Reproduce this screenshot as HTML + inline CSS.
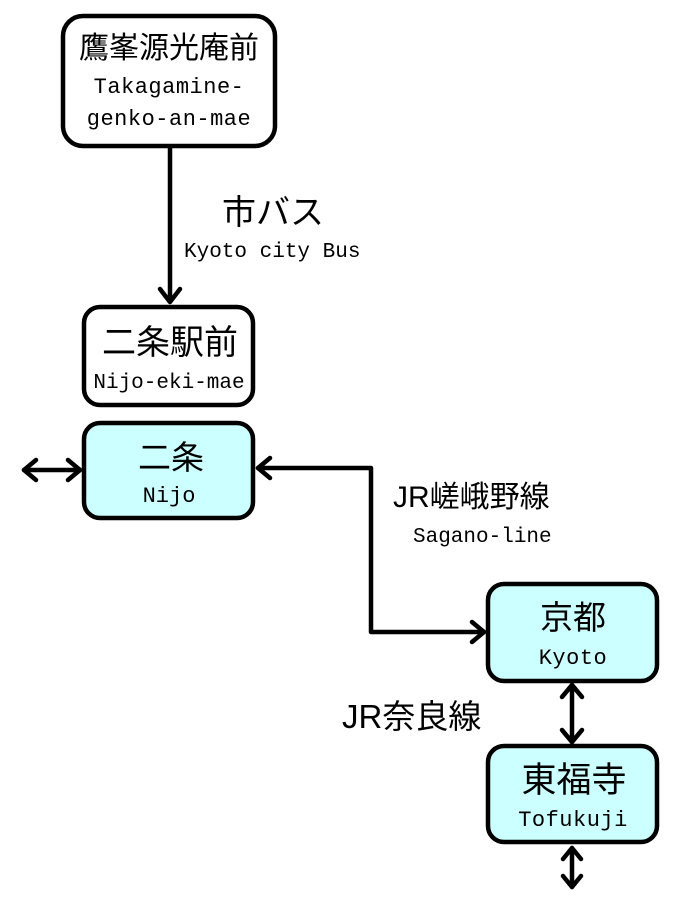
<!DOCTYPE html>
<html><head><meta charset="utf-8"><style>
html,body{margin:0;padding:0;background:#fff}
svg{display:block}
.j{font-family:"Liberation Sans","Noto Sans CJK JP",sans-serif;fill:#000}
.m{font-family:"Liberation Mono","Noto Sans CJK JP",monospace;fill:#000}
</style></head><body>
<svg width="681" height="911" viewBox="0 0 681 911" xmlns="http://www.w3.org/2000/svg">
<g fill="none" stroke="#000" stroke-width="4.5" stroke-linejoin="round" stroke-linecap="round">
<rect x="63" y="16" width="212" height="130" rx="20" fill="#fff"/>
<rect x="84" y="307" width="169" height="98" rx="16" fill="#fff"/>
<rect x="84" y="423" width="169" height="95" rx="16" fill="#ccffff"/>
<rect x="488" y="584" width="169" height="97" rx="16" fill="#ccffff"/>
<rect x="488" y="746" width="169" height="96" rx="16" fill="#ccffff"/>
<line x1="170" y1="147" x2="170" y2="301"/>
<polyline points="160,289 170,302 180,289"/>
<line x1="24" y1="470" x2="80" y2="470"/>
<polyline points="36,460 24,470 36,480"/>
<polyline points="68,460 80,470 68,480"/>
<polyline points="258,468 371,468 371,632 484,632"/>
<polyline points="270,458 258,468 270,478"/>
<polyline points="472,622 484,632 472,642"/>
<line x1="572" y1="685" x2="572" y2="742"/>
<polyline points="562,697 572,685 582,697"/>
<polyline points="562,730 572,742 582,730"/>
<line x1="572" y1="848" x2="572" y2="887"/>
<polyline points="563,859 572,848 581,859"/>
<polyline points="563,876 572,887 581,876"/>
</g>
<g text-anchor="middle">
<text class="j" x="169" y="58" font-size="30">鷹峯源光庵前</text>
<text class="m" x="169" y="93" font-size="22" letter-spacing="0.5">Takagamine-</text>
<text class="m" x="169" y="125" font-size="22" letter-spacing="0.5">genko-an-mae</text>
<text class="j" x="170" y="354" font-size="34">二条駅前</text>
<text class="m" x="169" y="388" font-size="21">Nijo-eki-mae</text>
<text class="j" x="171" y="469" font-size="33">二条</text>
<text class="m" x="169" y="502" font-size="22">Nijo</text>
<text class="j" x="573" y="629" font-size="33">京都</text>
<text class="m" x="573" y="664" font-size="22" letter-spacing="0.5">Kyoto</text>
<text class="j" x="574" y="792" font-size="35">東福寺</text>
<text class="m" x="573" y="826" font-size="22" letter-spacing="0.5">Tofukuji</text>
</g>
<text class="j" x="222" y="224" font-size="34">市バス</text>
<text class="m" x="184" y="257" font-size="21">Kyoto city Bus</text>
<text class="j" x="393" y="507" font-size="30">JR嵯峨野線</text>
<text class="m" x="413" y="542" font-size="21">Sagano-line</text>
<text class="j" x="342" y="728" font-size="33">JR奈良線</text>
</svg>
</body></html>
